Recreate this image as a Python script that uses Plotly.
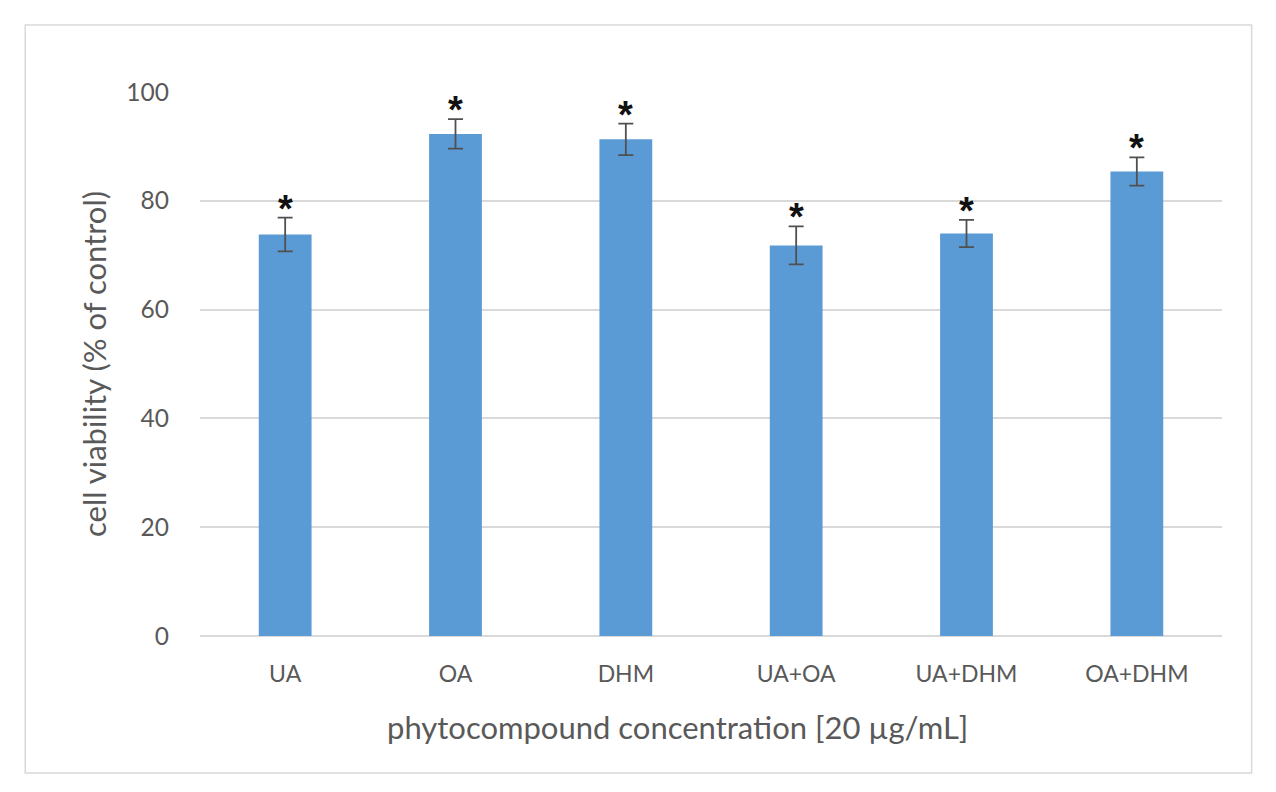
import plotly.graph_objects as go

categories = ["UA", "OA", "DHM", "UA+OA", "UA+DHM", "OA+DHM"]
viability = [73.8, 92.3, 91.3, 71.8, 74.0, 85.4]
errors = [3.1, 2.7, 2.9, 3.5, 2.5, 2.6]
marks = ["*", "*", "*", "*", "*", "*"]
y_ticks = [0, 20, 40, 60, 80, 100]

font_family = "Lato, Open Sans, sans-serif"
grey = "#595959"

fig = go.Figure()
fig.add_trace(go.Bar(
    x=categories, y=viability,
    marker=dict(color="#5B9BD5", line=dict(width=0)),
    width=0.31,
    error_y=dict(type="data", array=errors, visible=True,
                 color="#505050", thickness=1.8, width=7.5),
    cliponaxis=False,
    showlegend=False,
))

for c, v, e, m in zip(categories, viability, errors, marks):
    fig.add_annotation(x=c, y=v + e, text="<b>" + m + "</b>", showarrow=False,
                       yanchor="bottom", yshift=-14,
                       font=dict(family="Liberation Sans, Arial", size=38, color="#111111"))

fig.add_annotation(xref="paper", yref="paper", x=0.467, y=-0.167,
                   xanchor="center", yanchor="middle", showarrow=False,
                   text="phytocompound concentration [20 µg/mL]",
                   font=dict(size=31, color=grey, family=font_family))

fig.add_shape(type="rect", xref="paper", yref="paper",
              x0=-0.171, x1=1.029, y0=-0.252, y1=1.123,
              line=dict(color="#D9D9D9", width=1.5), fillcolor="rgba(0,0,0,0)", layer="below")

fig.update_layout(
    width=1276, height=792,
    margin=dict(l=192, r=62, t=84, b=164),
    plot_bgcolor="white", paper_bgcolor="white",
    font=dict(family=font_family, color=grey),
    bargap=0.69,
)
fig.update_yaxes(
    range=[0, 100], tickvals=y_ticks,
    showgrid=True, gridcolor="#D9D9D9", gridwidth=1.5,
    zeroline=True, zerolinecolor="#D9D9D9", zerolinewidth=1.5,
    showline=False, ticks="",
    tickfont=dict(size=24.5, color=grey, family=font_family),
    ticklabelstandoff=30,
    title=dict(text="cell viability (% of control)", font=dict(size=31, color=grey, family=font_family), standoff=10),
)
fig.update_xaxes(
    showline=False, ticks="",
    tickfont=dict(size=23, color=grey, family=font_family),
    ticklabelstandoff=22,
)

fig.write_html("out.html")
